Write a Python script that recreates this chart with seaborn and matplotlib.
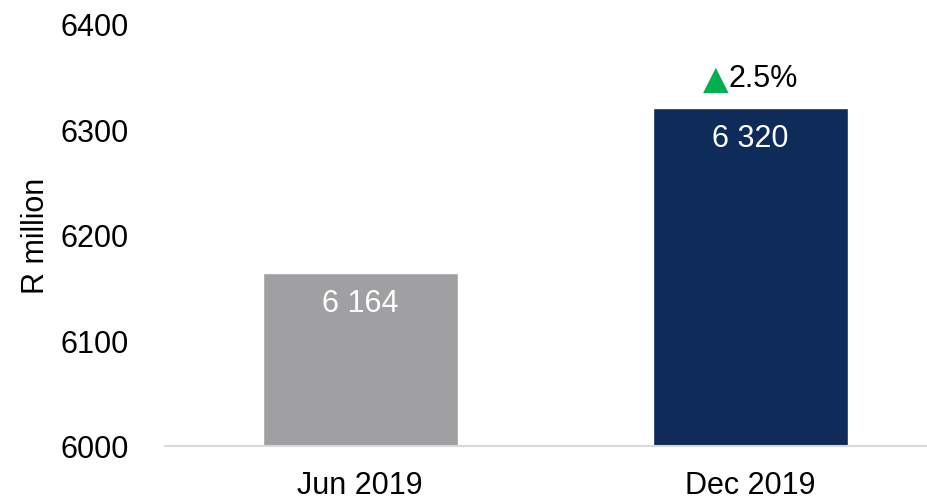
import matplotlib
matplotlib.use("Agg")
import matplotlib.pyplot as plt
import seaborn as sns
import pandas as pd

periods = ["Jun 2019", "Dec 2019"]
values = [6164, 6320]
bar_colors = ["#A0A0A2", "#0E2B5A"]
y_ticks = [6000, 6100, 6200, 6300, 6400]

sns.set_theme(style="white")
plt.rcParams["font.family"] = ["Liberation Sans", "DejaVu Sans"]

df = pd.DataFrame({"period": periods, "value": values})

fig = plt.figure(figsize=(9.28, 5.02), dpi=100)
ax = fig.add_axes([0.178, 0.1096, 0.822, 0.8406])

sns.barplot(data=df, x="period", y="value", hue="period",
            palette=dict(zip(periods, bar_colors)), width=0.5,
            saturation=1, legend=False, ax=ax)

ax.set_ylim(y_ticks[0], y_ticks[-1])
ax.set_yticks(y_ticks)
ax.set_xlim(-0.5, 1.456)
ax.set_xlabel("")
ax.set_ylabel("R million", fontsize=22, color="black", labelpad=7)
ax.tick_params(axis="y", length=0, pad=26, labelsize=22, labelcolor="black")
ax.tick_params(axis="x", length=0, pad=17, labelsize=22, labelcolor="black")

sns.despine(ax=ax, left=True, top=True, right=True)
ax.spines["bottom"].set_color("#D9D9D9")
ax.spines["bottom"].set_linewidth(1.5)

# value labels inside the bars
for i, v in enumerate(values):
    ax.annotate(f"{v:,}".replace(",", " "), xy=(i, v), xytext=(0, -30),
                textcoords="offset pixels", ha="center", va="center",
                fontsize=22, color="white")

# growth marker above the latest bar
growth = (values[1] - values[0]) / values[0] * 100
ax.annotate("▲", xy=(1, values[1]), xytext=(-22, 30),
            textcoords="offset pixels", ha="right", va="center",
            fontsize=24, color="#00B050", family="DejaVu Sans")
ax.annotate(f"{growth:.1f}%", xy=(1, values[1]), xytext=(-22, 30),
            textcoords="offset pixels", ha="left", va="center",
            fontsize=22, color="black")

fig.savefig("out.png", dpi=100)
